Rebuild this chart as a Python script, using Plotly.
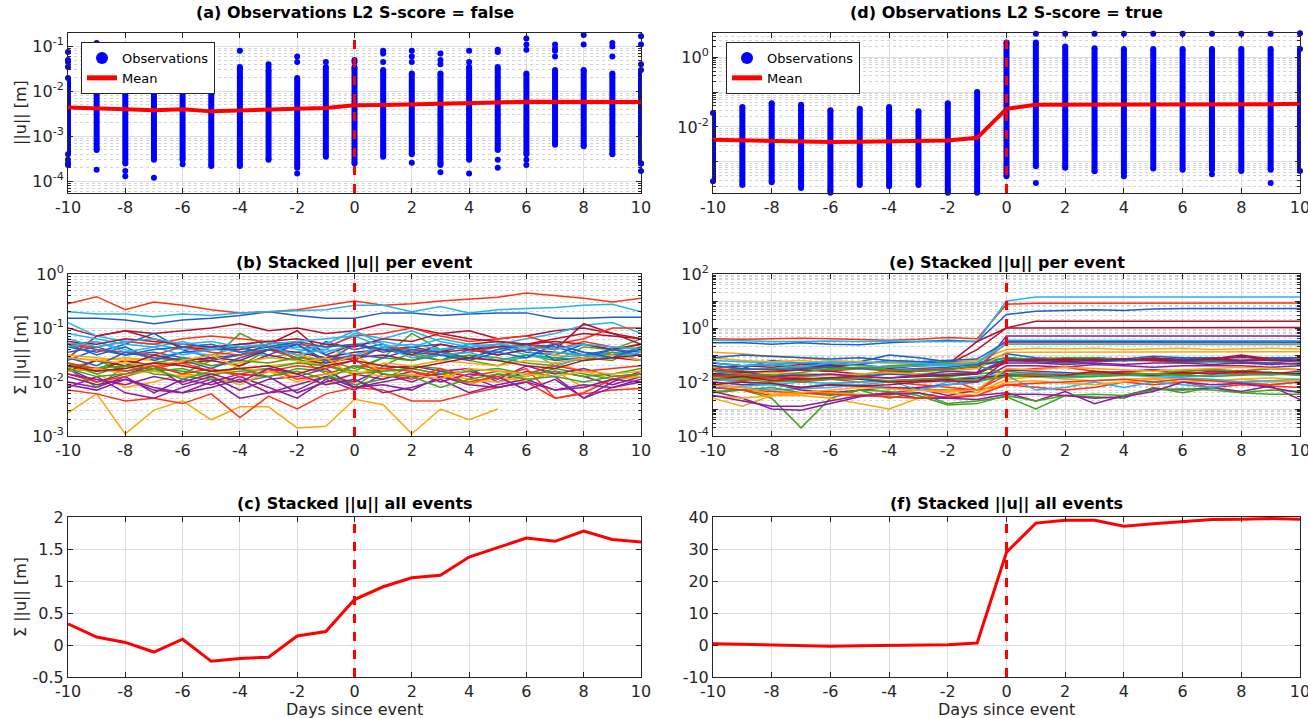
import plotly.graph_objects as go

FONT = "DejaVu Sans"
W, H = 1308, 718

days = list(range(-10, 11))

# ---------- (a) observations, S-score false ----------
a_band_high = [0.02, 0.02, 0.02, 0.02, 0.02, 0.02, 0.035, 0.03, 0.02, 0.035, 0.035,
               0.03, 0.025, 0.025, 0.035, 0.035, 0.025, 0.03, 0.03, 0.025, 0.03]
a_band_low = [4e-4, 5e-4, 2.5e-4, 3e-4, 3e-4, 2.2e-4, 2.2e-4, 3e-4, 2e-4, 3.5e-4, 2.5e-4,
              3.5e-4, 4e-4, 2.5e-4, 3e-4, 5e-4, 4e-4, 6.5e-4, 6e-4, 4e-4, 2.5e-4]
a_outliers = [
    [0.075, 0.05, 0.045, 0.035, 3e-4, 2.5e-4, 2.3e-4],
    [0.12, 0.1, 1.8e-4],
    [1.7e-4, 1.3e-4],
    [1.2e-4],
    [2.4e-4],
    [],
    [0.08],
    [0.04, 0.035],
    [0.06, 0.045, 1.5e-4],
    [0.045],
    [0.05, 0.045],
    [0.08, 0.07, 0.045, 5.2e-5],
    [0.08, 0.06, 0.045, 2.6e-4],
    [0.07, 0.05, 0.04, 1.6e-4, 2.3e-4],
    [0.2, 0.08, 0.045, 1.5e-4, 5.5e-4],
    [0.085, 0.075, 2e-4, 3e-4],
    [0.15, 0.11, 0.085, 2.3e-4, 3e-4],
    [0.11, 0.09, 0.08, 0.06],
    [0.18, 0.11],
    [0.12, 0.1, 0.06],
    [0.17, 0.11, 0.04, 2.5e-4, 1.7e-4],
]
a_mean = [4.4e-3, 4.1e-3, 4.0e-3, 3.8e-3, 4.0e-3, 3.6e-3, 3.7e-3, 3.8e-3, 4.1e-3, 4.3e-3, 4.9e-3,
          5.0e-3, 5.1e-3, 5.3e-3, 5.5e-3, 5.7e-3, 5.9e-3, 5.9e-3, 5.9e-3, 5.8e-3, 5.8e-3]

# ---------- (d) observations, S-score true ----------
d_band_high = [0.025, 0.037, 0.048, 0.043, 0.03, 0.033, 0.037, 0.028, 0.048, 0.1, 2.6,
               2.6, 2.0, 1.8, 1.7, 1.7, 1.7, 1.7, 1.7, 1.7, 1.7]
d_band_low = [2.8e-4, 2.2e-4, 2.6e-4, 1.8e-4, 1.5e-4, 2.2e-4, 2e-4, 2.2e-4, 1.5e-4, 1.3e-4, 3.9e-4,
              7.5e-4, 6.8e-4, 5.4e-4, 4.8e-4, 6.5e-4, 6e-4, 6e-4, 5.5e-4, 6e-4, 5.5e-4]
d_outliers = [
    [], [], [], [], [1.3e-4], [], [], [], [1.3e-4], [1.2e-4], [],
    [4.7, 2.5e-4], [4.7], [4.7], [4.7, 3.9e-4], [4.7], [4.7], [4.7, 4.4e-4], [4.7], [4.7, 2.5e-4], [4.8],
]
d_mean = [4.3e-3, 4.1e-3, 3.9e-3, 3.7e-3, 3.7e-3, 3.8e-3, 3.9e-3, 3.9e-3, 4.1e-3, 4.9e-3, 0.033,
          0.043, 0.043, 0.043, 0.043, 0.043, 0.043, 0.044, 0.045, 0.045, 0.046]

# ---------- (b) stacked ||u|| per event, S-score false (log10 values) ----------
b_event_log10 = [
    [-0.82,-0.82,-0.85,-0.92,-0.85,-0.82,-0.77,-0.7,-0.77,-0.82,-0.82,-0.72,-0.72,-0.77,-0.74,-0.72,-0.72,-0.82,-0.82,-0.8,-0.8],
    [-0.55,-0.42,-0.66,-0.52,-0.58,-0.66,-0.72,-0.7,-0.66,-0.58,-0.5,-0.58,-0.55,-0.5,-0.46,-0.43,-0.35,-0.4,-0.45,-0.52,-0.45],
    [-2.57,-2.22,-2.96,-2.52,-2.35,-2.7,-2.46,-2.46,-2.85,-2.82,-2.32,-2.42,-2.96,-2.5,-2.7,-2.5,None,None,None,None,None],
    [-2.0,-2.1,-1.9,-2.2,-1.95,-2.05,-1.9,-2.1,-2.3,-1.95,-2.15,-1.85,-2.0,-1.8,-1.9,-2.1,-2.0,-1.8,-1.9,-2.05,-1.9],
    [-1.75,-1.6,-1.8,-1.7,-1.85,-1.6,-1.1,-1.35,-1.5,-1.7,-1.8,-1.55,-1.1,-1.4,-1.6,-1.7,-1.5,-1.6,-1.35,-1.4,-1.2],
    [-0.7,-0.74,-0.74,-0.79,-0.74,-0.77,-0.72,-0.7,-0.68,-0.66,-0.58,-0.58,-0.7,-0.6,-0.72,-0.66,-0.64,-0.62,-0.58,-0.56,-0.7],
    [-1.0,-1.15,-1.05,-1.1,-1.05,-1.0,-0.92,-1.05,-1.0,-1.1,-1.05,-0.92,-1.0,-1.1,-1.05,-1.2,-1.15,-1.05,-1.0,-1.1,-1.2],
    [-1.35,-1.45,-1.3,-1.1,-1.4,-1.55,-1.5,-1.3,-1.6,-1.25,-1.4,-1.3,-1.5,-1.6,-1.4,-1.3,-1.45,-1.5,-1.3,-1.4,-1.3],
    [-2.15,-2.22,-2.35,-2.3,-2.4,-2.22,-2.66,-2.26,-2.5,-2.22,-2.1,-2.15,-2.35,-2.35,-2.22,-2.1,-2.0,-2.3,-2.22,-2.15,-2.12],
    [-1.55,-1.6,-1.55,-1.6,-1.7,-1.55,-1.4,-1.3,-1.5,-1.6,-1.3,-1.4,-1.5,-1.45,-1.55,-1.4,-1.35,-1.5,-1.55,-1.4,-1.35],
    [-2.1,-1.9,-2.2,-2.3,-2.1,-1.95,-2.3,-2.2,-2.05,-1.9,-2.0,-1.75,-1.7,-1.8,-1.75,-2.0,-1.8,-1.9,-2.3,-2.1,-2.0],
    [-1.75,-2.1,-1.7,-1.85,-1.9,-1.95,-2.0,-1.9,-1.75,-1.8,-2.05,-1.95,-1.7,-1.75,-2.05,-1.85,-1.9,-1.75,-1.85,-1.95,-1.9],
    [-0.9,-1.15,-1.25,-1.3,-1.4,-1.35,-1.45,-1.4,-1.35,-1.4,-1.1,-1.2,-1.05,-1.25,-1.35,-1.3,-1.2,-1.1,-0.95,-0.9,-1.1],
    [-1.55,-1.15,-1.05,-1.2,-1.35,-1.4,-1.4,-1.3,-1.05,-1.5,-1.3,-1.4,-1.35,-1.45,-1.3,-1.25,-1.3,-1.4,-0.92,-1.1,-1.3],
    [-1.6,-1.4,-1.5,-1.45,-1.55,-1.6,-1.5,-1.4,-1.25,-1.5,-1.6,-1.35,-1.45,-1.4,-1.35,-1.5,-1.4,-1.3,-1.45,-1.5,-1.4],
    [-1.3,-1.35,-1.25,-1.3,-1.2,-1.15,-1.2,-1.25,-1.3,-1.35,-1.15,-1.1,-1.0,-1.15,-1.25,-1.2,-1.15,-1.3,-1.2,-1.0,-1.0],
    [-1.7,-1.85,-2.1,-2.0,-1.85,-1.9,-2.05,-1.8,-1.9,-2.05,-1.85,-1.75,-1.9,-1.85,-1.95,-2.0,-1.9,-1.65,-1.8,-1.95,-1.85],
    [-1.9,-2.05,-1.95,-2.1,-2.2,-2.0,-1.85,-1.9,-2.2,-2.0,-1.85,-1.95,-1.8,-2.0,-1.85,-1.9,-2.15,-1.95,-2.3,-2.0,-1.8],
    [-1.8,-1.75,-1.6,-1.8,-1.75,-1.9,-1.7,-1.4,-1.55,-1.85,-2.1,-1.7,-1.45,-1.6,-1.5,-1.55,-1.65,-1.7,-1.55,-1.6,-1.35],
    [-1.3,-1.25,-1.4,-1.55,-1.45,-1.5,-1.35,-1.55,-1.45,-1.3,-1.05,-1.3,-1.45,-1.4,-1.3,-1.35,-1.5,-1.55,-1.5,-1.45,-1.6],
    [-1.65,-1.8,-1.6,-1.7,-1.65,-1.6,-1.7,-1.5,-1.6,-1.65,-1.55,-1.5,-1.6,-1.45,-1.4,-1.5,-1.4,-1.45,-1.5,-1.55,-1.6],
    [-1.3,-1.5,-1.35,-1.6,-1.45,-1.4,-1.35,-1.5,-1.3,-1.65,-1.3,-1.45,-1.35,-1.3,-1.4,-1.45,-1.3,-1.35,-1.5,-1.4,-1.45],
    [-1.3,-1.4,-1.45,-1.5,-1.35,-1.45,-1.5,-1.4,-1.55,-1.6,-1.55,-1.35,-1.4,-1.5,-1.45,-1.35,-1.3,-1.4,-1.25,-1.35,-1.4],
    [-1.5,-1.55,-1.6,-1.55,-1.6,-1.7,-1.65,-1.55,-1.6,-1.7,-1.5,-1.8,-1.75,-1.85,-2.05,-1.9,-2.0,-1.8,-2.1,-1.95,-1.9],
    [-1.75,-2.0,-1.85,-1.7,-2.05,-1.9,-2.15,-1.95,-1.9,-1.75,-2.1,-2.0,-1.9,-1.85,-1.8,-1.95,-1.7,-1.85,-1.75,-1.9,-1.85],
    [-1.7,-1.75,-1.7,-1.65,-1.55,-1.7,-1.6,-1.65,-1.55,-1.6,-1.75,-1.55,-1.6,-1.5,-1.55,-1.6,-1.5,-1.55,-1.6,-1.45,-1.5],
    [-1.35,-1.25,-1.45,-1.35,-1.5,-1.4,-1.3,-1.25,-1.4,-1.45,-1.3,-1.25,-1.35,-1.2,-1.3,-1.35,-1.4,-1.7,-1.55,-1.4,-1.5],
    [-1.8,-1.6,-1.7,-1.5,-1.6,-1.55,-1.6,-1.4,-1.45,-1.55,-1.45,-1.4,-1.5,-1.3,-1.4,-1.35,-1.3,-1.25,-1.3,-1.4,-1.3],
    [-1.55,-1.7,-1.45,-1.55,-1.6,-1.75,-1.55,-1.4,-1.3,-1.6,-1.5,-1.55,-1.4,-1.45,-1.55,-1.4,-1.3,-1.6,-1.55,-1.4,-1.5],
    [-1.85,-2.0,-1.9,-1.75,-1.65,-1.8,-1.85,-1.75,-1.95,-1.85,-1.7,-1.75,-1.8,-1.9,-2.0,-1.9,-1.75,-2.3,-2.2,-1.95,-1.85],
    [-1.55,-1.6,-1.65,-1.7,-1.6,-1.5,-1.75,-1.7,-1.65,-1.55,-1.9,-1.65,-1.7,-1.6,-1.65,-1.7,-1.6,-1.65,-1.55,-1.5,-1.6],
    [-2.05,-2.15,-1.95,-2.15,-2.2,-2.1,-1.95,-2.2,-2.15,-1.9,-2.1,-2.05,-2.15,-1.9,-2.05,-2.1,-2.0,-2.15,-2.05,-2.1,-1.95],
    [-1.65,-1.85,-1.7,-1.75,-1.8,-1.85,-1.8,-1.75,-1.65,-1.7,-1.85,-1.8,-1.75,-1.85,-1.8,-1.75,-1.85,-1.8,-1.9,-1.85,-1.75],
    [-1.1,-1.2,-1.3,-1.35,-1.25,-1.4,-1.3,-1.35,-1.5,-1.4,-1.5,-1.35,-1.55,-1.5,-1.45,-1.6,-1.55,-1.45,-1.5,-1.55,-1.45],
    [-1.25,-1.3,-1.2,-1.25,-1.3,-1.35,-1.3,-1.25,-1.2,-1.3,-1.35,-1.2,-1.25,-1.1,-1.2,-1.25,-1.3,-1.2,-1.1,-1.15,-1.2],
    [-1.45,-1.35,-1.5,-1.4,-1.35,-1.3,-1.45,-1.35,-1.25,-1.35,-1.3,-1.4,-1.45,-1.5,-1.6,-1.45,-1.55,-1.3,-1.45,-1.55,-1.35],
    [-1.65,-1.75,-1.8,-1.7,-1.85,-1.75,-1.9,-1.8,-1.7,-1.75,-1.6,-1.85,-1.95,-1.75,-1.9,-1.8,-1.85,-1.7,-1.8,-1.75,-1.7],
    [-1.8,-1.75,-1.85,-1.8,-1.9,-1.85,-1.75,-1.8,-2.0,-1.85,-1.8,-1.9,-1.85,-1.95,-1.75,-1.8,-1.85,-1.9,-1.8,-1.85,-1.8],
    [-1.85,-1.95,-2.05,-1.9,-2.0,-1.85,-2.0,-1.75,-1.85,-2.05,-1.95,-2.2,-2.1,-1.95,-2.2,-2.05,-1.95,-2.15,-2.1,-1.95,-2.0],
    [-1.75,-1.9,-1.85,-1.75,-1.95,-1.8,-1.75,-1.9,-1.8,-1.95,-1.7,-1.85,-1.9,-2.1,-1.95,-1.85,-1.95,-1.9,-2.0,-1.9,-1.85],
    [-1.2,-1.35,-1.25,-1.2,-1.3,-1.25,-1.35,-1.3,-1.25,-1.2,-1.15,-1.35,-1.3,-1.4,-1.35,-1.3,-1.35,-1.4,-1.3,-1.35,-1.4],
    [-1.7,-1.8,-1.75,-1.65,-1.7,-1.8,-1.75,-1.7,-1.85,-1.7,-1.6,-1.7,-1.75,-1.65,-1.55,-1.6,-1.7,-1.75,-1.6,-1.55,-1.5],
]

# ---------- (e) stacked ||u|| per event, S-score true (log10 values) ----------
e_event_log10 = [
    [-0.55,-0.55,-0.6,-0.55,-0.6,-0.62,-0.55,-0.5,-0.45,-0.5,0.5,0.62,0.66,0.68,0.65,0.7,0.72,0.72,0.72,0.72,0.72],
    [-0.4,-0.42,-0.4,-0.38,-0.4,-0.42,-0.45,-0.42,-0.35,-0.4,0.88,0.92,0.92,0.93,0.93,0.93,0.93,0.93,0.93,0.93,0.93],
    [-0.9,-0.95,-1.05,-1.1,-1.2,-1.25,-1.3,-1.3,-1.25,-1.2,-0.8,-0.75,-0.78,-0.75,-0.8,-0.78,-0.75,-0.8,-0.78,-0.75,-0.78],
    [-1.8,-1.7,-1.75,-1.9,-1.85,-1.8,-1.7,-1.75,-1.8,-1.65,-0.3,-0.3,-0.3,-0.3,-0.3,-0.3,-0.3,-0.3,-0.3,-0.3,-0.3],
    [-2.4,-2.3,-2.6,-3.7,-2.6,-2.3,-2.6,-2.4,-2.8,-2.7,-2.55,-3.0,-2.5,-2.55,-2.6,-2.2,-2.4,-2.2,-2.4,-2.45,-2.45],
    [-0.45,-0.48,-0.5,-0.5,-0.48,-0.5,-0.48,-0.5,-0.5,-0.5,1.0,1.15,1.15,1.15,1.14,1.14,1.14,1.14,1.14,1.15,1.15],
    [-1.5,-1.4,-1.45,-1.35,-1.4,-1.5,-1.45,-1.4,-1.35,-0.5,0.0,0.25,0.25,0.25,0.25,0.25,0.25,0.25,0.25,0.25,0.25],
    [-1.6,-1.5,-1.2,-1.3,-1.4,-1.35,-1.2,-1.25,-1.3,-1.35,-0.95,-1.1,-1.15,-1.1,-1.2,-1.15,-1.1,-1.15,-1.2,-1.15,-1.1],
    [-2.2,-2.3,-2.5,-2.4,-2.35,-2.5,-2.4,-2.3,-2.3,-2.3,-2.1,-2.2,-2.3,-2.2,-2.0,-2.1,-2.0,-2.2,-2.1,-2.15,-2.2],
    [-2.6,-2.9,-2.5,-2.5,-2.6,-2.8,-3.0,-2.6,-2.3,-2.4,-1.9,-1.8,-1.9,-1.95,-1.9,-1.85,-1.9,-1.95,-1.9,-1.85,-1.9],
    [-2.35,-2.6,-3.0,-3.05,-2.8,-2.55,-2.4,-2.6,-2.6,-2.5,-2.4,-2.7,-2.35,-2.8,-2.5,-2.25,-2.3,-2.2,-2.35,-2.15,-2.65],
    [-1.8,-1.85,-1.9,-1.8,-1.75,-1.8,-1.55,-1.7,-1.8,-1.7,-1.6,-1.7,-1.75,-1.7,-1.65,-1.7,-1.75,-1.6,-1.7,-1.65,-1.7],
    [-2.1,-2.2,-2.3,-2.25,-2.2,-2.1,-2.2,-2.3,-2.0,-1.9,-1.75,-2.3,-2.2,-2.0,-2.2,-2.0,-2.1,-2.2,-2.0,-2.1,-2.0],
    [-1.3,-1.4,-1.35,-1.45,-1.4,-1.35,-1.5,-1.4,-1.35,-0.8,0.0,0.0,0.0,0.02,0.02,0.02,0.02,0.02,0.02,0.02,0.02],
    [-1.3,-1.4,-1.35,-1.3,-1.35,-1.25,-1.0,-1.1,-1.25,-1.3,-1.1,-1.2,-1.15,-1.1,-1.15,-1.05,-1.1,-1.1,-1.1,-1.1,-1.1],
    [-1.5,-1.6,-1.65,-1.55,-1.6,-1.5,-1.6,-1.55,-1.5,-1.45,-0.55,-0.55,-0.55,-0.55,-0.55,-0.55,-0.55,-0.55,-0.55,-0.55,-0.55],
    [-1.1,-1.2,-1.25,-1.2,-1.3,-1.25,-1.3,-1.35,-1.3,-1.25,-0.6,-0.6,-0.6,-0.6,-0.62,-0.62,-0.62,-0.62,-0.62,-0.62,-0.62],
    [-1.9,-2.0,-2.1,-2.2,-2.1,-2.15,-2.25,-2.2,-2.1,-2.0,-1.4,-1.4,-1.45,-1.35,-1.4,-1.45,-1.4,-1.4,-1.4,-1.45,-1.4],
    [-1.4,-1.55,-1.5,-1.45,-1.55,-1.5,-1.4,-1.35,-1.3,-1.35,-1.1,-1.15,-1.1,-1.1,-1.2,-1.2,-1.3,-1.25,-1.3,-1.3,-1.35],
    [-1.3,-1.4,-1.35,-1.45,-1.3,-1.4,-1.45,-1.4,-1.4,-1.3,-0.45,-0.45,-0.47,-0.47,-0.47,-0.47,-0.47,-0.47,-0.47,-0.47,-0.47],
    [-1.6,-1.65,-1.6,-1.55,-1.6,-1.7,-1.65,-1.6,-1.55,-1.4,-1.2,-1.15,-1.2,-1.15,-1.2,-1.1,-1.2,-1.15,-1.0,-1.15,-1.2],
    [-1.7,-1.75,-1.8,-1.7,-1.75,-1.8,-1.7,-1.75,-1.7,-1.65,-1.15,-1.2,-1.15,-1.2,-1.15,-1.2,-1.15,-1.2,-1.2,-1.15,-1.2],
    [-1.9,-1.95,-1.8,-1.85,-1.9,-2.0,-1.95,-1.9,-1.85,-2.3,-1.6,-1.5,-1.45,-1.6,-1.65,-1.55,-1.6,-1.55,-1.6,-1.5,-1.55],
    [-1.6,-1.7,-1.65,-1.7,-1.75,-1.7,-1.65,-1.7,-1.6,-1.5,-0.9,-0.9,-0.9,-0.88,-0.88,-0.88,-0.88,-0.88,-0.88,-0.88,-0.88],
    [-2.0,-2.1,-2.05,-2.3,-2.4,-2.3,-2.2,-2.25,-2.5,-2.3,-1.55,-1.6,-1.65,-1.7,-1.6,-1.55,-1.7,-1.6,-1.65,-1.7,-1.6],
    [-2.35,-2.3,-2.2,-2.4,-2.5,-2.3,-2.35,-2.5,-2.85,-2.8,-2.5,-2.7,-2.5,-2.45,-2.5,-2.3,-2.25,-2.3,-2.4,-2.3,-2.35],
    [-2.2,-2.15,-2.1,-2.0,-2.05,-2.1,-2.0,-1.95,-1.9,-1.8,-1.7,-1.65,-1.7,-1.75,-1.7,-1.75,-1.8,-1.75,-1.7,-1.75,-1.65],
    [-1.75,-1.8,-1.85,-1.9,-1.85,-1.8,-1.85,-1.8,-1.75,-1.7,-1.2,-1.2,-1.25,-1.2,-1.2,-1.15,-1.2,-1.2,-1.05,-1.2,-1.2],
    [-1.4,-1.5,-1.55,-1.5,-1.45,-1.5,-1.55,-1.5,-1.45,-1.35,-1.2,-1.25,-1.3,-1.25,-1.2,-1.2,-1.25,-1.2,-1.25,-1.3,-1.2],
    [-1.8,-1.75,-1.85,-2.0,-1.9,-1.85,-2.0,-2.1,-2.2,-2.3,-1.75,-1.7,-1.75,-1.65,-1.7,-1.75,-1.7,-1.65,-1.7,-1.65,-1.75],
    [-2.5,-2.6,-2.5,-2.45,-2.4,-2.45,-2.5,-2.3,-2.4,-2.5,-2.0,-1.95,-2.05,-2.1,-2.0,-1.9,-2.0,-1.95,-1.9,-2.0,-1.95],
    [-1.7,-1.6,-1.8,-1.75,-1.7,-1.8,-1.85,-1.75,-1.6,-1.65,-1.3,-1.3,-1.35,-1.3,-1.35,-1.3,-1.3,-1.35,-1.3,-1.35,-1.3],
    [-1.6,-1.7,-1.75,-1.65,-1.5,-1.45,-1.55,-1.6,-1.55,-1.4,-1.7,-1.8,-1.75,-1.7,-1.75,-1.7,-1.6,-1.55,-1.6,-1.5,-1.55],
    [-1.9,-2.0,-2.1,-2.2,-2.05,-2.0,-1.95,-2.3,-2.1,-2.0,-1.75,-1.8,-1.85,-1.8,-1.75,-1.8,-1.85,-1.9,-2.0,-1.95,-1.9],
    [-1.9,-1.8,-1.95,-1.9,-1.85,-1.9,-2.0,-1.95,-1.9,-1.85,-1.75,-1.8,-1.75,-1.6,-1.7,-1.75,-1.65,-1.7,-1.6,-1.65,-1.7],
    [-1.1,-1.0,-1.05,-1.1,-1.15,-1.1,-1.2,-1.25,-1.2,-1.15,-0.5,-0.5,-0.5,-0.5,-0.52,-0.52,-0.52,-0.52,-0.52,-0.52,-0.52],
    [-2.2,-2.3,-2.35,-2.4,-2.45,-2.5,-2.55,-2.6,-2.55,-2.5,-2.1,-2.05,-2.0,-1.95,-1.9,-2.0,-1.9,-1.95,-2.05,-2.1,-2.0],
    [-2.1,-2.2,-2.45,-2.4,-2.3,-2.2,-2.25,-2.3,-2.35,-2.3,-1.5,-1.55,-1.45,-1.5,-1.55,-1.6,-1.55,-1.5,-1.45,-1.5,-1.55],
    [-2.5,-2.7,-2.9,-2.9,-2.7,-2.5,-2.45,-2.4,-2.6,-2.65,-2.45,-2.45,-2.5,-2.6,-2.55,-2.35,-2.0,-2.1,-2.05,-2.2,-2.4],
    [-1.85,-1.9,-2.0,-1.95,-1.9,-1.85,-1.95,-1.9,-1.85,-1.95,-1.8,-1.75,-1.8,-1.8,-1.75,-1.7,-1.75,-1.8,-1.75,-1.7,-1.75],
    [-1.2,-1.25,-1.3,-1.3,-1.25,-1.3,-1.25,-1.3,-1.35,-1.3,-0.6,-0.6,-0.6,-0.6,-0.6,-0.6,-0.6,-0.6,-0.6,-0.6,-0.6],
    [-2.1,-2.0,-2.05,-2.2,-2.1,-2.15,-2.1,-2.0,-1.95,-2.0,-1.2,-1.2,-1.15,-1.2,-1.15,-1.2,-1.2,-1.15,-1.2,-1.2,-1.2],
]

# ---------- (c), (f) stacked ||u|| all events ----------
c_stacked = [0.33, 0.125, 0.04, -0.11, 0.09, -0.255, -0.21, -0.19, 0.14, 0.21, 0.71,
             0.91, 1.05, 1.09, 1.375, 1.52, 1.67, 1.62, 1.78, 1.65, 1.61]
f_stacked = [0.4, 0.2, 0.0, -0.3, -0.4, -0.2, -0.1, -0.1, 0.1, 0.6, 29.0,
             38.1, 39.0, 39.0, 37.1, 37.9, 38.6, 39.2, 39.3, 39.5, 39.3]

event_day = 0

line_colors = ["#1F5FC8", "#FF3214", "#FFA50A", "#8C1E9B", "#3CA51E", "#23B4F0", "#B0122E"]
OBS = "#0000FF"
RED = "#FF0000"
DARK = "#262626"

# ---------------- figure ----------------
fig = go.Figure()

def px_x(p):
    return p / W

def px_y(p):
    return 1 - p / H

left_dom = [px_x(68), px_x(641)]
right_dom = [px_x(713), px_x(1300)]
row_dom = [[px_y(193), px_y(33)], [px_y(436), px_y(274)], [px_y(677), px_y(517)]]

def obs_traces(xa, ya, low, high, outs, mean, legend):
    bx, by, mx, my = [], [], [], []
    for d, lo, hi, o in zip(days, low, high, outs):
        bx += [d, d, None]
        by += [lo, hi, None]
        mx += [d] * (2 + len(o))
        my += [lo, hi] + list(o)
    fig.add_trace(go.Scatter(x=bx, y=by, mode="lines", line=dict(color=OBS, width=6),
                             xaxis=xa, yaxis=ya, showlegend=False, hoverinfo="skip"))
    fig.add_trace(go.Scatter(x=mx, y=my, mode="markers", name="Observations",
                             marker=dict(color=OBS, size=6), cliponaxis=False,
                             xaxis=xa, yaxis=ya, legend=legend))
    fig.add_trace(go.Scatter(x=days, y=mean, mode="lines", name="Mean",
                             line=dict(color=RED, width=4),
                             xaxis=xa, yaxis=ya, legend=legend))

obs_traces("x", "y", a_band_low, a_band_high, a_outliers, a_mean, "legend")
obs_traces("x2", "y2", d_band_low, d_band_high, d_outliers, d_mean, "legend2")

def event_lines(xa, ya, series):
    for i, s in enumerate(series):
        vals = [None if v is None else 10 ** v for v in s]
        fig.add_trace(go.Scatter(x=days, y=vals, mode="lines",
                                 line=dict(color=line_colors[i % 7], width=1.5),
                                 xaxis=xa, yaxis=ya, showlegend=False))

event_lines("x3", "y3", b_event_log10)
event_lines("x4", "y4", e_event_log10)

fig.add_trace(go.Scatter(x=days, y=c_stacked, mode="lines", line=dict(color=RED, width=3),
                         xaxis="x5", yaxis="y5", showlegend=False))
fig.add_trace(go.Scatter(x=days, y=f_stacked, mode="lines", line=dict(color=RED, width=3),
                         xaxis="x6", yaxis="y6", showlegend=False))

tickfont = dict(family=FONT, size=16, color=DARK)
common = dict(showline=True, linecolor=DARK, linewidth=1, mirror="allticks",
              ticks="inside", ticklen=5, tickcolor=DARK, showgrid=True,
              gridcolor="#DEDEDE", gridwidth=1, zeroline=False, tickfont=tickfont,
              automargin=False, ticklabeloverflow="allow")

xcommon = dict(common, range=[-10, 10], tickvals=list(range(-10, 11, 2)))

def sup(e):
    return "10<sup>%d</sup>" % e

def logaxis(lo, hi, exps, labeled):
    return dict(common, type="log", range=[lo, hi],
                tickmode="array", tickvals=[10 ** e for e in exps],
                ticktext=[sup(e) if e in labeled else "" for e in exps],
                minor=dict(dtick="D1", showgrid=True, gridcolor="#D4D4D4", griddash="dot",
                           ticks="inside", ticklen=3, tickcolor=DARK))

layout_axes = {}
names = [("xaxis", "yaxis"), ("xaxis2", "yaxis2"), ("xaxis3", "yaxis3"),
         ("xaxis4", "yaxis4"), ("xaxis5", "yaxis5"), ("xaxis6", "yaxis6")]
anchors = ["y", "y2", "y3", "y4", "y5", "y6"]
xanch = ["x", "x2", "x3", "x4", "x5", "x6"]
for k, (xn, yn) in enumerate(names):
    col = k % 2
    row = k // 2
    layout_axes[xn] = dict(xcommon, domain=left_dom if col == 0 else right_dom, anchor=anchors[k])
    layout_axes[yn] = dict(domain=row_dom[row], anchor=xanch[k])

layout_axes["yaxis"].update(logaxis(-4.26, -0.70, [-4, -3, -2, -1], [-4, -3, -2, -1]))
layout_axes["yaxis2"].update(logaxis(-3.89, 0.69, [-3, -2, -1, 0], [-2, 0]))
layout_axes["yaxis3"].update(logaxis(-3, 0, [-3, -2, -1, 0], [-3, -2, -1, 0]))
layout_axes["yaxis4"].update(logaxis(-4, 2, [-4, -3, -2, -1, 0, 1, 2], [-4, -2, 0, 2]))
layout_axes["yaxis5"].update(dict(common, range=[-0.5, 2], tickvals=[-0.5, 0, 0.5, 1, 1.5, 2],
                                  ticktext=["-0.5", "0", "0.5", "1", "1.5", "2"]))
layout_axes["yaxis6"].update(dict(common, range=[-10, 40], tickvals=[-10, 0, 10, 20, 30, 40],
                                  ticktext=["-10", "0", "10", "20", "30", "40"]))
for xn in ["xaxis", "xaxis2", "xaxis3", "xaxis4", "xaxis5", "xaxis6"]:
    layout_axes[xn]["ticktext"] = [str(v) for v in range(-10, 11, 2)]
    layout_axes[xn]["tickmode"] = "array"

# dashed event markers
shapes = []
for xr, yr in zip(xanch, anchors):
    shapes.append(dict(type="line", xref=xr, yref=yr + " domain", x0=event_day, x1=event_day,
                       y0=0, y1=1, line=dict(color=RED, width=3, dash="dash")))

titles = ["(a) Observations L2 S-score = false", "(d) Observations L2 S-score = true",
          "(b) Stacked ||u|| per event", "(e) Stacked ||u|| per event",
          "(c) Stacked ||u|| all events", "(f) Stacked ||u|| all events"]
title_y = [13, 263, 504]
ann = []
for k, t in enumerate(titles):
    dom = left_dom if k % 2 == 0 else right_dom
    ann.append(dict(text="<b>%s</b>" % t, x=(dom[0] + dom[1]) / 2, y=px_y(title_y[k // 2]),
                    xref="paper", yref="paper", showarrow=False, xanchor="center", yanchor="middle",
                    font=dict(family=FONT, size=16, color="#000000")))
ylabels = [("||u|| [m]", 113), ("Σ ||u|| [m]", 355), ("Σ ||u|| [m]", 597)]
for t, yc in ylabels:
    ann.append(dict(text=t, x=px_x(20), y=px_y(yc), xref="paper", yref="paper", showarrow=False,
                    textangle=-90, xanchor="center", yanchor="middle",
                    font=dict(family=FONT, size=16, color=DARK)))
for dom in (left_dom, right_dom):
    ann.append(dict(text="Days since event", x=(dom[0] + dom[1]) / 2, y=px_y(709),
                    xref="paper", yref="paper", showarrow=False, xanchor="center", yanchor="middle",
                    font=dict(family=FONT, size=16, color=DARK)))

legend_style = dict(bgcolor="white", bordercolor=DARK, borderwidth=1,
                    font=dict(family=FONT, size=13, color="#000000"),
                    xanchor="left", yanchor="top", itemsizing="constant",
                    tracegroupgap=0)

fig.update_layout(
    width=W, height=H, margin=dict(l=0, r=0, t=0, b=0, autoexpand=False),
    paper_bgcolor="white", plot_bgcolor="white",
    font=dict(family=FONT, color=DARK),
    shapes=shapes, annotations=ann,
    legend=dict(legend_style, x=px_x(81), y=px_y(42)),
    legend2=dict(legend_style, x=px_x(726), y=px_y(42)),
    **layout_axes,
)

fig.write_html("out.html")
